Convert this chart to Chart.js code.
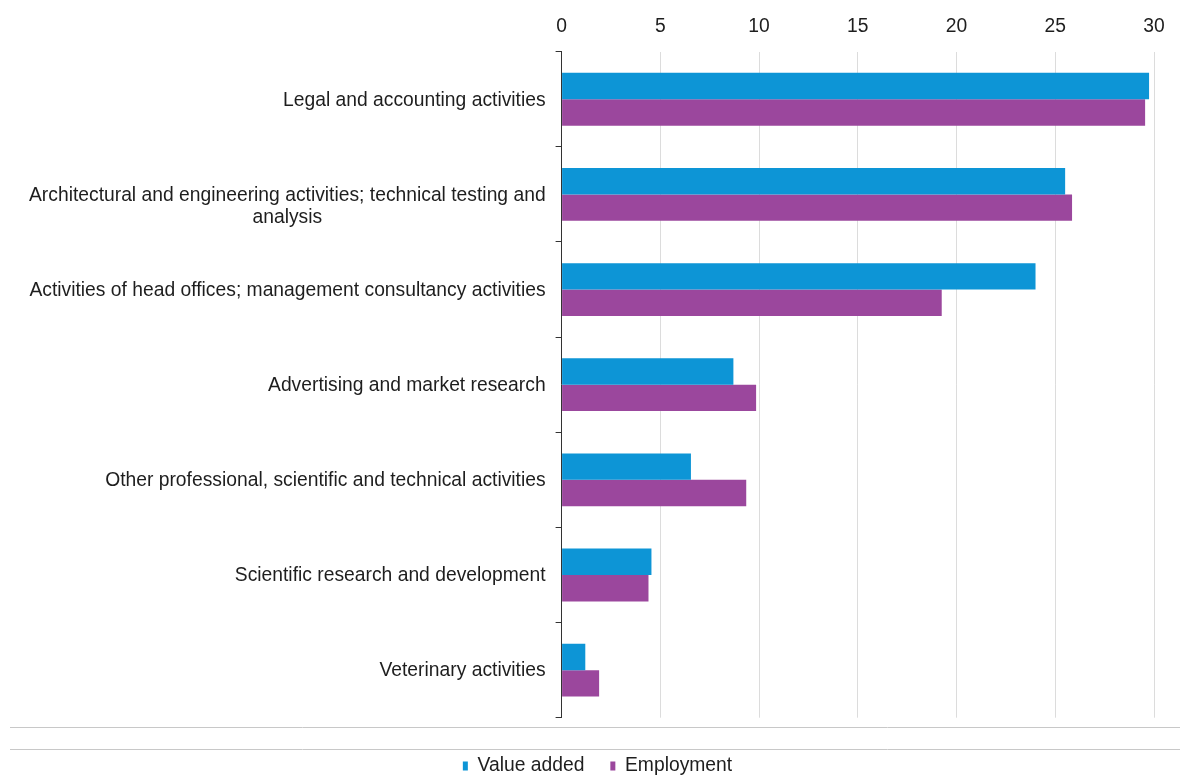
<!DOCTYPE html>
<html>
<head>
<meta charset="utf-8">
<script src="https://cdn.jsdelivr.net/npm/chart.js@4/dist/chart.umd.min.js"></script>
<style>
  html, body { margin: 0; padding: 0; background: #ffffff; }
  #wrap { width: 1180px; height: 777px; position: relative; }
</style>
</head>
<body>
<div id="wrap"><canvas id="chart"></canvas></div>
<script>
// Sectors (a nested array is a label drawn on two lines)
const categories = [
  'Legal and accounting activities',
  ['Architectural and engineering activities; technical testing and', 'analysis'],
  'Activities of head offices; management consultancy activities',
  'Advertising and market research',
  'Other professional, scientific and technical activities',
  'Scientific research and development',
  'Veterinary activities'
];
const seriesNames = ['Value added', 'Employment'];
const valueAdded = [29.75, 25.5, 24.0, 8.7, 6.55, 4.55, 1.2];
const employment = [29.55, 25.85, 19.25, 9.85, 9.35, 4.4, 1.9];
const xTicks = [0, 5, 10, 15, 20, 25, 30];

const FONT = "'Liberation Sans', Arial, sans-serif";
const TEXT = '#1e1e1e';
const LABEL_SIZE = 19.3;

// Category names: right-aligned block, wrapped lines centred under the first
const categoryLabels = {
  id: 'categoryLabels',
  afterDraw(chart) {
    const y = chart.scales.y;
    const ctx = chart.ctx;
    const right = chart.chartArea.left - 16;
    ctx.save();
    ctx.font = LABEL_SIZE + 'px ' + FONT;
    ctx.fillStyle = TEXT;
    ctx.textBaseline = 'middle';
    categories.forEach((c, i) => {
      const lines = Array.isArray(c) ? c : [c];
      const widths = lines.map(l => ctx.measureText(l).width);
      const blockW = Math.max(...widths);
      const cx = right - blockW / 2;
      const py = y.getPixelForTick(i) + 1;
      ctx.textAlign = 'center';
      lines.forEach((l, k) => ctx.fillText(l, cx, py + k * 22.5));
    });
    ctx.restore();
  }
};

// Thin rules separating the plot from the legend
const frameRules = {
  id: 'frameRules',
  afterDraw(chart) {
    const ctx = chart.ctx;
    ctx.save();
    ctx.strokeStyle = '#c8c8c8';
    ctx.lineWidth = 1;
    [727.5, 749.5].forEach(yy => {
      ctx.beginPath();
      ctx.moveTo(10, yy);
      ctx.lineTo(chart.width, yy);
      ctx.stroke();
    });
    ctx.restore();
  }
};

new Chart(document.getElementById('chart'), {
  type: 'bar',
  data: {
    labels: categories,
    datasets: [
      { label: seriesNames[0], data: valueAdded, backgroundColor: '#0d95d6', borderWidth: 0 },
      { label: seriesNames[1], data: employment, backgroundColor: '#9b479d', borderWidth: 0 }
    ]
  },
  options: {
    indexAxis: 'y',
    responsive: true,
    maintainAspectRatio: false,
    animation: false,
    layout: { padding: { left: 41, right: 26, top: 0, bottom: -8.65 } },
    datasets: { bar: { categoryPercentage: 0.555, barPercentage: 1 } },
    scales: {
      x: {
        type: 'linear',
        position: 'top',
        min: 0,
        max: 30,
        afterBuildTicks(scale) { scale.ticks = xTicks.map(v => ({ value: v })); },
        afterFit(scale) { scale.height = 51.7; },
        grid: { color: '#dcdcdc', lineWidth: 1, drawTicks: false },
        border: { display: false },
        ticks: { padding: 13, color: TEXT, font: { family: FONT, size: LABEL_SIZE } }
      },
      spacer: {
        type: 'linear',
        axis: 'x',
        position: 'bottom',
        afterFit(scale) { scale.height = 12.65; },
        grid: { display: false },
        border: { display: false },
        ticks: { display: false }
      },
      y: {
        type: 'category',
        position: 'left',
        afterFit(scale) { scale.width = 561.6 - 41; },
        grid: { drawOnChartArea: false, drawTicks: true, tickLength: 6, color: '#333333', offset: true },
        border: { display: true, color: '#333333', width: 1 },
        ticks: { display: false }
      }
    },
    plugins: {
      legend: {
        position: 'bottom',
        labels: {
          boxWidth: 5,
          boxHeight: 9,
          padding: 26,
          color: TEXT,
          font: { family: FONT, size: LABEL_SIZE }
        }
      },
      tooltip: { enabled: false }
    }
  },
  plugins: [categoryLabels, frameRules]
});
</script>
</body>
</html>
